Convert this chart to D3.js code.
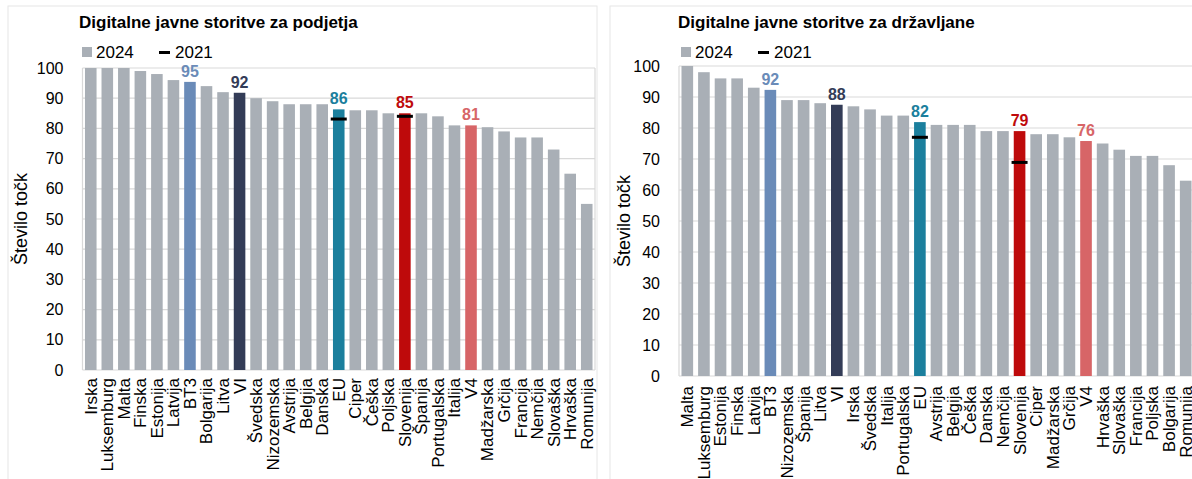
<!DOCTYPE html>
<html lang="sl">
<head>
<meta charset="UTF-8">
<title>Digitalne javne storitve</title>
<script src="https://d3js.org/d3.v7.min.js"></script>
<style>
  body { margin: 0; background: #fff; }
  svg { display: block; font-family: "Liberation Sans", Arial, sans-serif; }
  .title { font-weight: bold; font-size: 17px; fill: #000; }
  .tick-y { font-size: 16px; fill: #000; }
  .cat { font-size: 17px; fill: #000; }
  .legend { font-size: 17px; fill: #000; }
  .axis-title { font-size: 18px; fill: #000; }
  .val { font-size: 16px; font-weight: bold; }
</style>
</head>
<body>
<svg id="chart" width="1192" height="479"></svg>
<script>
// podjetja (left panel)
const catsBiz = ["Irska","Luksemburg","Malta","Finska","Estonija","Latvija","BT3","Bolgarija","Litva","VI",
  "Švedska","Nizozemska","Avstrija","Belgija","Danska","EU","Ciper","Češka","Poljska","Slovenija",
  "Španija","Portugalska","Italija","V4","Madžarska","Grčija","Francija","Nemčija","Slovaška","Hrvaška","Romunija"];
const val2024Biz = [100,100,100,99,98,96,95.4,94,92,91.8,
  90,89,88,88,88,86.3,86,86,85,85,
  85,84,81,81,80.4,79,77,77,73,65,55];

// državljani (right panel)
const catsCit = ["Malta","Luksemburg","Estonija","Finska","Latvija","BT3","Nizozemska","Španija","Litva","VI",
  "Irska","Švedska","Italija","Portugalska","EU","Avstrija","Belgija","Češka","Danska","Nemčija",
  "Slovenija","Ciper","Madžarska","Grčija","V4","Hrvaška","Slovaška","Francija","Poljska","Bolgarija","Romunija"];
const val2024Cit = [100,98,96,96,93,92.3,89,89,88,87.5,
  87,86,84,84,81.9,81,81,81,79,79,
  79,78,78,77,75.8,75,73,71,71,68,63];

// 2021 markers
const cats2021 = ["EU","Slovenija"];
const val2021Biz = [83.1,84];
const val2021Cit = [77,68.9];

const yTicks = [0,10,20,30,40,50,60,70,80,90,100];

const colorOf = {
  "BT3": "#6A8BB8",
  "VI": "#333C57",
  "EU": "#1B7F9D",
  "Slovenija": "#BE0A0B",
  "V4": "#D76567"
};
const baseGray = "#A9AFB6";
const labelled = Object.keys(colorOf);

const svg = d3.select("#chart");

function drawPanel(p) {
  const g = svg.append("g");

  // okvir panela
  g.append("rect")
    .attr("x", p.frame[0]).attr("y", 6)
    .attr("width", p.frame[1] - p.frame[0]).attr("height", 480)
    .attr("fill", "none").attr("stroke", "#E6E6E6");

  g.append("text").attr("class", "title")
    .attr("x", p.titleX).attr("y", 28).text(p.title);

  // legenda
  g.append("rect").attr("x", p.legX).attr("y", 47).attr("width", 10).attr("height", 10).attr("fill", baseGray);
  g.append("text").attr("class", "legend").attr("x", p.legX + 14).attr("y", 57.5).text("2024");
  g.append("rect").attr("x", p.legX + 77).attr("y", 51).attr("width", 11).attr("height", 3).attr("fill", "#000");
  g.append("text").attr("class", "legend").attr("x", p.legX + 93).attr("y", 57.5).text("2021");

  const x = d3.scaleBand().domain(p.cats).range([p.left, p.right]).paddingInner(0.3).paddingOuter(0.15);
  const y = d3.scaleLinear().domain([0, 100]).range([p.bottom, p.top]);

  // mreža
  g.selectAll(".grid").data(yTicks).join("line")
    .attr("x1", p.left).attr("x2", p.right)
    .attr("y1", d => y(d)).attr("y2", d => y(d))
    .attr("stroke", "#D9D9D9").attr("stroke-width", 1.2);
  g.append("line").attr("x1", p.left).attr("x2", p.left).attr("y1", p.top).attr("y2", p.bottom)
    .attr("stroke", "#D9D9D9").attr("stroke-width", 1.2);
  g.append("line").attr("x1", p.right).attr("x2", p.right).attr("y1", p.top).attr("y2", p.bottom)
    .attr("stroke", "#D9D9D9").attr("stroke-width", 1.2);

  g.selectAll(".tick-y").data(yTicks).join("text")
    .attr("class", "tick-y")
    .attr("x", p.left - 19).attr("y", d => y(d)).attr("dy", "0.35em")
    .attr("text-anchor", "end").text(d => d);

  g.append("text").attr("class", "axis-title")
    .attr("transform", `translate(${p.axisTitleX},${(p.top + p.bottom) / 2}) rotate(-90)`)
    .attr("text-anchor", "middle").attr("dy", "0.35em").text("Število točk");

  // stolpci 2024
  g.selectAll(".bar").data(p.cats).join("rect")
    .attr("x", d => x(d)).attr("width", x.bandwidth())
    .attr("y", (d, i) => y(p.vals[i]))
    .attr("height", (d, i) => y(0) - y(p.vals[i]))
    .attr("fill", d => colorOf[d] || baseGray);

  // oznake 2021
  g.selectAll(".m21").data(cats2021).join("rect")
    .attr("x", d => x(d) + x.bandwidth() / 2 - 8).attr("width", 16)
    .attr("y", (d, i) => y(p.v21[i]) - 1.5).attr("height", 3)
    .attr("fill", "#000");

  // vrednosti
  g.selectAll(".val").data(labelled).join("text")
    .attr("class", "val")
    .attr("x", d => x(d) + x.bandwidth() / 2)
    .attr("y", d => y(p.vals[p.cats.indexOf(d)]) - 5)
    .attr("text-anchor", "middle")
    .attr("fill", d => colorOf[d])
    .text(d => Math.round(p.vals[p.cats.indexOf(d)]));

  // kategorije
  g.selectAll(".cat").data(p.cats).join("text")
    .attr("class", "cat")
    .attr("transform", d => `translate(${x(d) + x.bandwidth() / 2},${p.bottom + p.catGap}) rotate(-90)`)
    .attr("text-anchor", "end").attr("dy", "0.35em")
    .text(d => d);
}

drawPanel({
  title: "Digitalne javne storitve za podjetja",
  cats: catsBiz, vals: val2024Biz, v21: val2021Biz,
  frame: [8, 597], titleX: 79, legX: 82, axisTitleX: 21, catGap: 8,
  left: 82.5, right: 595, top: 68, bottom: 370
});

drawPanel({
  title: "Digitalne javne storitve za državljane",
  cats: catsCit, vals: val2024Cit, v21: val2021Cit,
  frame: [610, 1200], titleX: 678, legX: 681, axisTitleX: 624, catGap: 10,
  left: 679, right: 1194, top: 66, bottom: 376
});
</script>
</body>
</html>
